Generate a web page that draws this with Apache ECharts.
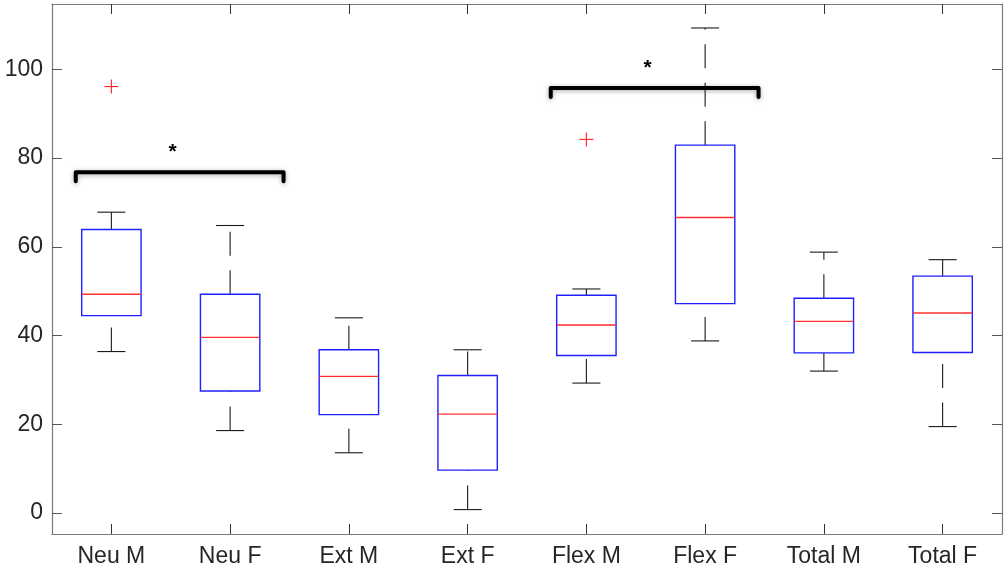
<!DOCTYPE html>
<html>
<head>
<meta charset="utf-8">
<script src="https://cdn.jsdelivr.net/npm/echarts@6/dist/echarts.min.js"></script>
<style>
  html, body { margin: 0; padding: 0; background: #fff; }
  #chart { width: 1005px; height: 573px; }
</style>
</head>
<body>
<div id="chart"></div>
<script>
const categories = ['Neu M', 'Neu F', 'Ext M', 'Ext F', 'Flex M', 'Flex F', 'Total M', 'Total F'];
const lowerWhisker = [36.4, 18.6, 13.6, 0.8, 29.3, 38.8, 32.0, 19.5];
const q1 = [44.5, 27.5, 22.2, 9.7, 35.5, 47.2, 36.1, 36.2];
const medians = [49.3, 39.6, 30.8, 22.3, 42.4, 66.6, 43.2, 45.1];
const q3 = [63.9, 49.3, 36.8, 31.0, 49.1, 82.9, 48.4, 53.4];
const upperWhisker = [67.8, 64.8, 44.0, 36.8, 50.5, 109.3, 58.8, 57.1];

const outlierCats = ['Neu M', 'Flex M'];
const outlierValues = [96.1, 84.2];

const bracketFrom = ['Neu M', 'Flex M'];
const bracketTo = ['Neu F', 'Flex F'];
const bracketLevel = [76.8, 95.8];
const bracketMark = ['*', '*'];

const yTicks = [0, 20, 40, 60, 80, 100];

const boxData = categories.map((c, i) => [i, lowerWhisker[i], q1[i], medians[i], q3[i], upperWhisker[i]]);
const outlierData = outlierCats.map((c, i) => [categories.indexOf(c), outlierValues[i]]);
const bracketData = bracketFrom.map((c, i) => [categories.indexOf(c), categories.indexOf(bracketTo[i]), bracketLevel[i], bracketMark[i]]);

const axisColor = '#7a7a7a';
const textColor = '#262626';

function renderBox(params, api) {
  const idx = api.value(0);
  const band = api.size([1, 0])[0];
  const lo = api.coord([idx, api.value(1)]);
  const b1 = api.coord([idx, api.value(2)]);
  const md = api.coord([idx, api.value(3)]);
  const b3 = api.coord([idx, api.value(4)]);
  const hi = api.coord([idx, api.value(5)]);
  const cx = lo[0];
  const hw = band * 0.25;
  const cw = band * 0.118;
  const dash = [24, 14.5];
  return {
    type: 'group',
    children: [
      // lower whisker, drawn from the cap up to the box
      { type: 'line', shape: { x1: cx, y1: lo[1], x2: cx, y2: b1[1] },
        style: { stroke: '#1a1a1a', lineWidth: 1.1, lineDash: dash } },
      // upper whisker, drawn from the box up to the cap
      { type: 'line', shape: { x1: cx, y1: b3[1], x2: cx, y2: hi[1] },
        style: { stroke: '#1a1a1a', lineWidth: 1.1, lineDash: dash } },
      { type: 'line', shape: { x1: cx - cw, y1: lo[1], x2: cx + cw, y2: lo[1] },
        style: { stroke: '#1a1a1a', lineWidth: 1.1 } },
      { type: 'line', shape: { x1: cx - cw, y1: hi[1], x2: cx + cw, y2: hi[1] },
        style: { stroke: '#1a1a1a', lineWidth: 1.1 } },
      { type: 'rect', shape: { x: cx - hw, y: b3[1], width: hw * 2, height: b1[1] - b3[1] },
        style: { fill: 'none', stroke: '#2020ff', lineWidth: 1.4 } },
      { type: 'line', shape: { x1: cx - hw, y1: md[1], x2: cx + hw, y2: md[1] },
        style: { stroke: '#ff3030', lineWidth: 1.4 } }
    ]
  };
}

function renderOutlier(params, api) {
  const p = api.coord([api.value(0), api.value(1)]);
  const s = 7;
  return {
    type: 'group',
    children: [
      { type: 'line', shape: { x1: p[0] - s, y1: p[1], x2: p[0] + s, y2: p[1] },
        style: { stroke: '#ff2020', lineWidth: 1.1 } },
      { type: 'line', shape: { x1: p[0], y1: p[1] - s, x2: p[0], y2: p[1] + s },
        style: { stroke: '#ff2020', lineWidth: 1.1 } }
    ]
  };
}

function renderBracket(params, api) {
  const band = api.size([1, 0])[0];
  const a = api.coord([api.value(0), api.value(2)]);
  const b = api.coord([api.value(1), api.value(2)]);
  const x1 = a[0] - band * 0.3;
  const x2 = b[0] + band * 0.45;
  const y = a[1];
  const drop = 9;
  return {
    type: 'group',
    children: [
      { type: 'polyline',
        shape: { points: [[x1, y + drop], [x1, y], [x2, y], [x2, y + drop]] },
        style: { stroke: '#000', lineWidth: 4, lineJoin: 'round', lineCap: 'round', fill: 'none',
                 shadowBlur: 5, shadowColor: 'rgba(0,0,0,0.35)', shadowOffsetY: 1 } },
      { type: 'text',
        style: { text: api.value(3), x: (x1 + x2) / 2 - 7, y: y - 20, align: 'center', verticalAlign: 'middle',
                 font: 'bold 21px "Liberation Sans", Arial, sans-serif', fill: '#000' } }
    ]
  };
}

const xTick = { show: true, inside: true, alignWithLabel: true, interval: 0, length: 10, lineStyle: { color: '#333', width: 1 } };

const chart = echarts.init(document.getElementById('chart'));
chart.setOption({
  animation: false,
  backgroundColor: '#ffffff',
  textStyle: { fontFamily: '"Liberation Sans", Arial, Helvetica, sans-serif' },
  grid: { left: 52, right: 3, top: 4, bottom: 39, containLabel: false },
  xAxis: [
    {
      type: 'category', data: categories, position: 'bottom',
      axisLine: { onZero: false, lineStyle: { color: axisColor, width: 1.2 } },
      axisTick: xTick,
      axisLabel: { color: textColor, fontSize: 23, margin: 11, interval: 0 },
      splitLine: { show: false }
    },
    {
      type: 'category', data: categories, position: 'top',
      axisLine: { onZero: false, lineStyle: { color: axisColor, width: 1.2 } },
      axisTick: xTick,
      axisLabel: { show: false },
      splitLine: { show: false }
    }
  ],
  yAxis: [
    {
      type: 'value', min: -4.7, max: 114.7, position: 'left',
      axisLine: { show: true, onZero: false, lineStyle: { color: axisColor, width: 1.2 } },
      axisTick: { show: true, inside: true, length: 10, customValues: yTicks, lineStyle: { color: '#555' } },
      axisLabel: { color: textColor, fontSize: 23, margin: 9, customValues: yTicks },
      splitLine: { show: false }
    },
    {
      type: 'value', min: -4.7, max: 114.7, position: 'right',
      axisLine: { show: true, onZero: false, lineStyle: { color: axisColor, width: 1.2 } },
      axisTick: { show: true, inside: true, length: 10, customValues: yTicks, lineStyle: { color: '#555' } },
      axisLabel: { show: false, customValues: yTicks },
      splitLine: { show: false }
    }
  ],
  series: [
    { type: 'custom', name: 'box', renderItem: renderBox, data: boxData, encode: { x: 0, y: [1, 2, 3, 4, 5] }, clip: false },
    { type: 'custom', name: 'outliers', renderItem: renderOutlier, data: outlierData, encode: { x: 0, y: 1 } },
    { type: 'custom', name: 'brackets', renderItem: renderBracket, data: bracketData, encode: { x: [0, 1], y: 2 }, z: 5 }
  ]
});
</script>
</body>
</html>
